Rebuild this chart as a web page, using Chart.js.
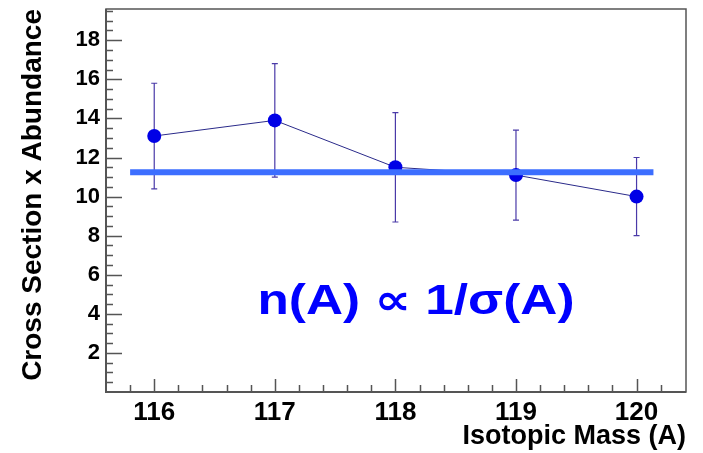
<!DOCTYPE html>
<html>
<head>
<meta charset="utf-8">
<script src="https://cdn.jsdelivr.net/npm/chart.js@4.4.0/dist/chart.umd.min.js"></script>
<style>
  html, body { margin: 0; padding: 0; background: #fff; }
</style>
</head>
<body>
<canvas id="massChart" width="703" height="453"></canvas>

<script>
// values
const masses = [116, 117, 118, 119, 120];
const values = [13.1, 13.9, 11.5, 11.1, 10.0];
const errLow = [10.4, 11.0, 8.7, 8.8, 8.0];
const errHigh = [15.8, 16.8, 14.3, 13.4, 12.0];
const fitX = [115.8, 120.14];
const fitY = [11.24, 11.24];
const xTickLabels = [116, 117, 118, 119, 120];
const yTickLabels = [2, 4, 6, 8, 10, 12, 14, 16, 18];
const formulaText = 'n(A) \u221D 1/\u03C3(A)';

const FONT = "'Liberation Sans', Arial, 'DejaVu Sans', sans-serif";
Chart.defaults.font.family = FONT;

// error bars under the markers
const errorBars = {
  id: 'errorBars',
  beforeDatasetsDraw(chart) {
    const ctx = chart.ctx;
    const xs = chart.scales.x, ys = chart.scales.y;
    ctx.save();
    ctx.strokeStyle = '#4a3aa8';
    ctx.lineWidth = 1.2;
    for (let i = 0; i < masses.length; i++) {
      const px = xs.getPixelForValue(masses[i]);
      const lo = ys.getPixelForValue(errLow[i]);
      const hi = ys.getPixelForValue(errHigh[i]);
      ctx.beginPath();
      ctx.moveTo(px, lo); ctx.lineTo(px, hi);
      ctx.moveTo(px - 3, lo); ctx.lineTo(px + 3, lo);
      ctx.moveTo(px - 3, hi); ctx.lineTo(px + 3, hi);
      ctx.stroke();
    }
    ctx.restore();
  }
};

// ROOT style frame, inside ticks and the formula
const frame = {
  id: 'frame',
  afterDraw(chart) {
    const ctx = chart.ctx;
    const a = chart.chartArea;
    const xs = chart.scales.x, ys = chart.scales.y;
    ctx.save();
    ctx.strokeStyle = '#555';
    ctx.lineWidth = 1.5;
    ctx.strokeRect(a.left, a.top, a.right - a.left, a.bottom - a.top);
    ctx.lineWidth = 2;
    ctx.beginPath();
    ctx.moveTo(a.left, a.top); ctx.lineTo(a.left, a.bottom); ctx.lineTo(a.right, a.bottom);
    ctx.stroke();

    ctx.lineWidth = 1.5;
    ctx.beginPath();
    for (let k = 1; k <= 39; k++) {
      const v = k * 0.5;
      if (v > ys.max) break;
      const py = Math.round(ys.getPixelForValue(v)) + 0.5;
      const len = (k % 4 === 0) ? 16 : 7;
      ctx.moveTo(a.left, py); ctx.lineTo(a.left + len, py);
    }
    for (let k = 579; k <= 601; k++) {
      const v = k * 0.2;
      if (v <= xs.min || v >= xs.max) continue;
      const px = Math.round(xs.getPixelForValue(v)) + 0.5;
      const len = (k % 5 === 0) ? 13 : 7;
      ctx.moveTo(px, a.bottom); ctx.lineTo(px, a.bottom - len);
    }
    ctx.stroke();

    // formula
    ctx.font = 'bold 42px ' + FONT;
    ctx.fillStyle = '#0000ff';
    ctx.textAlign = 'center';
    ctx.textBaseline = 'alphabetic';
    const w = ctx.measureText(formulaText).width;
    ctx.translate(416, 314);
    ctx.scale(317 / w, 1);
    ctx.fillText(formulaText, 0, 0);
    ctx.restore();
  }
};

new Chart(document.getElementById('massChart'), {
  type: 'scatter',
  data: {
    datasets: [
      {
        label: 'fit',
        data: fitX.map((x, i) => ({ x: x, y: fitY[i] })),
        showLine: true,
        borderColor: '#3c6eff',
        borderWidth: 6,
        pointRadius: 0,
        order: 0
      },
      {
        label: 'data',
        data: masses.map((m, i) => ({ x: m, y: values[i] })),
        showLine: true,
        borderColor: '#2a2a8a',
        borderWidth: 1,
        pointRadius: 7,
        pointBackgroundColor: '#0000e6',
        pointBorderColor: '#0000e6',
        pointBorderWidth: 0,
        order: 1
      }
    ]
  },
  options: {
    responsive: false,
    animation: false,
    layout: { padding: { top: 9, right: 17, left: 0, bottom: 0 } },
    plugins: { legend: { display: false }, tooltip: { enabled: false } },
    scales: {
      x: {
        type: 'linear',
        min: 115.6,
        max: 120.41,
        afterBuildTicks: s => { s.ticks = xTickLabels.map(v => ({ value: v })); },
        afterFit: s => { s.height = 61; s.paddingLeft = 0; s.paddingRight = 0; },
        grid: { display: false, drawTicks: false },
        border: { display: false },
        ticks: { color: '#000', padding: 5, maxRotation: 0, font: { size: 26, weight: 'bold' } },
        title: {
          display: true, text: 'Isotopic Mass (A)', align: 'end', color: '#000',
          font: { size: 27, weight: 'bold', lineHeight: 1 }, padding: { top: 0, bottom: 3 }
        }
      },
      y: {
        type: 'linear',
        min: 0,
        max: 19.6,
        afterBuildTicks: s => { s.ticks = yTickLabels.map(v => ({ value: v })); },
        afterFit: s => { s.width = 106; s.paddingTop = 0; s.paddingBottom = 0; },
        grid: { display: false, drawTicks: false },
        border: { display: false },
        ticks: { color: '#000', padding: 6, font: { size: 22, weight: 'bold' } },
        title: {
          display: true, text: 'Cross Section x Abundance', align: 'end', color: '#000',
          font: { size: 28, weight: 'bold', lineHeight: 1 }, padding: { top: 19, bottom: 0 }
        }
      }
    }
  },
  plugins: [errorBars, frame]
});
</script>
</body>
</html>
